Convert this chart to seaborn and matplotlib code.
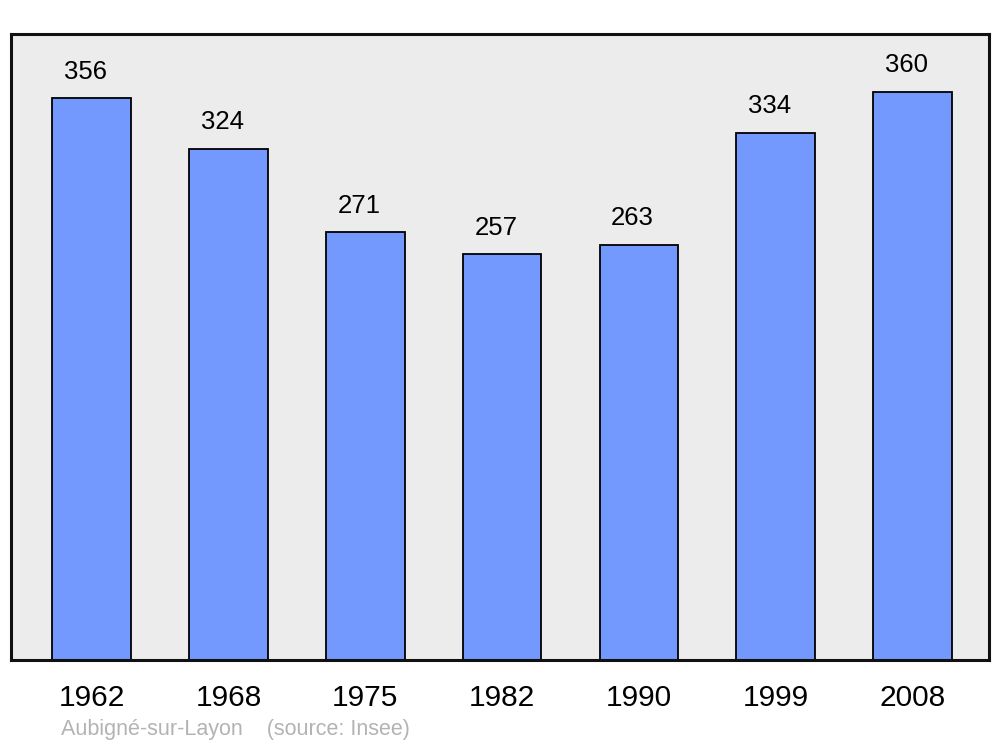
import matplotlib
matplotlib.use("Agg")
import matplotlib.pyplot as plt
import seaborn as sns
import pandas as pd

years = ["1962", "1968", "1975", "1982", "1990", "1999", "2008"]
population = [356, 324, 271, 257, 263, 334, 360]
commune = "Aubigné-sur-Layon"
source = "(source: Insee)"

sns.set_style("white")
plt.rcParams["font.family"] = ["Liberation Sans", "DejaVu Sans"]

df = pd.DataFrame({"year": years, "pop": population})

fig = plt.figure(figsize=(10, 7.47), dpi=100)
ax = fig.add_axes([0.011, 1 - 660 / 747, 0.978, 626 / 747])
ax.set_facecolor("#ececec")

sns.barplot(data=df, x="year", y="pop", color="#7399ff", saturation=1,
            width=0.575, edgecolor="black", linewidth=1.3, ax=ax)

# value labels above each bar
for i, v in enumerate(population):
    ax.annotate(str(v), (i, v), xytext=(-4.5, 10.5), textcoords="offset points",
                ha="center", va="bottom", fontsize=18.5, color="black")

ax.set_xlim(-0.59, 6.56)
ax.set_ylim(0, 396.7)
ax.set_yticks([])
ax.set_xlabel("")
ax.set_ylabel("")
ax.tick_params(axis="x", length=0, labelsize=21.5, pad=17.5, labelcolor="black")
for s in ax.spines.values():
    s.set_visible(True)
    s.set_linewidth(2.2)
    s.set_color("#111111")

fig.text(0.061, 1 - 730 / 747, commune + "    " + source, fontsize=15.5,
         color="#b3b3b3", va="center", ha="left")

fig.savefig("out.png", dpi=100)
